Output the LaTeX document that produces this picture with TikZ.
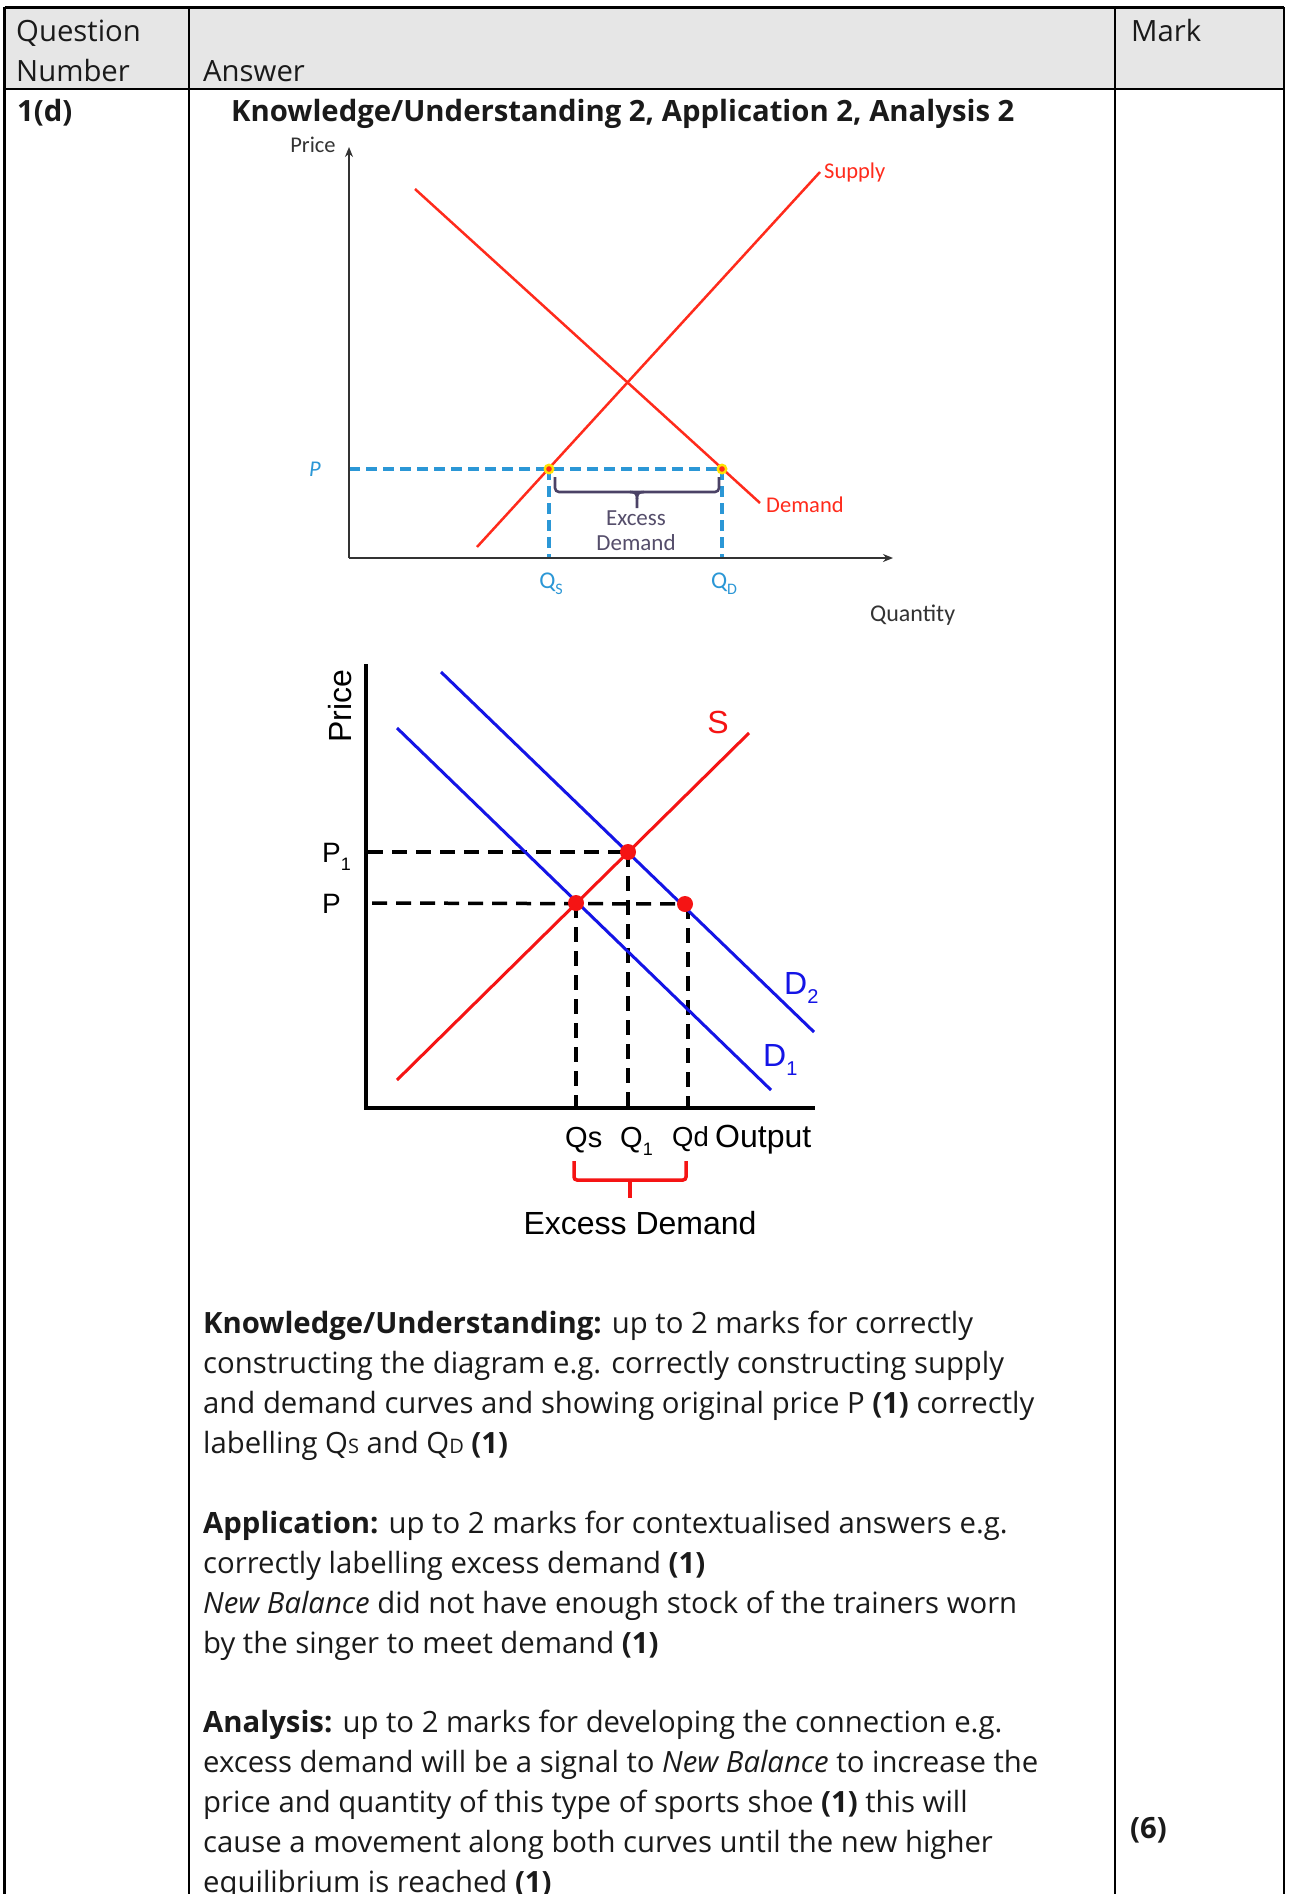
\documentclass[tikz,border=0pt]{standalone}
\usepackage{fontspec}
\setmainfont{Open Sans}
\newfontfamily\carl{Carlito}
\newfontfamily\arialf{Liberation Sans}
\usetikzlibrary{arrows.meta}
\definecolor{hdr}{HTML}{E6E6E6}
\definecolor{gred}{HTML}{FF2B1C}
\definecolor{gblue}{HTML}{2B97D6}
\definecolor{bracec}{HTML}{4B4266}
\definecolor{axisg}{HTML}{333333}
\definecolor{dblue}{HTML}{1414E6}
\definecolor{sred}{HTML}{F51414}
\definecolor{ink}{HTML}{1A1A1A}
\tikzset{
  tbl/.style={line width=2.2pt, black},
  body/.style={anchor=base west, inner sep=0pt, text=ink, font=\fontsize{29.3}{40}\selectfont},
  gone/.style={inner sep=0pt, font=\carl\fontsize{22.5}{25}\selectfont},
  gtwo/.style={inner sep=0pt, font=\arialf\fontsize{32}{36}\selectfont},
  bluedash/.style={gblue, line width=3.2pt, dash pattern=on 11pt off 6pt},
  blackdash/.style={black, line width=3.5pt, dash pattern=on 15pt off 9pt},
}
\begin{document}
\begin{tikzpicture}[x=1pt,y=-1pt]
\useasboundingbox (0,0) rectangle (1292,1894);
\fill[white] (0,0) rectangle (1292,1894);
% ---------- table ----------
\fill[hdr] (4.5,7.5) rectangle (1284,89);
\coordinate (tl) at (4.5,7.5);
\coordinate (tr) at (1284,7.5);
\coordinate (hl) at (4.5,89);
\coordinate (hr) at (1284,89);
\coordinate (bl) at (4.5,1894);
\coordinate (br) at (1284,1894);
\coordinate (c1t) at (189,7.5);
\coordinate (c1b) at (189,1894);
\coordinate (c2t) at (1115,7.5);
\coordinate (c2b) at (1115,1894);
\draw[tbl] (tl) -- (tr);
\draw[tbl] (hl) -- (hr);
\draw[tbl] (tl) -- (bl);
\draw[tbl] (tr) -- (br);
\draw[tbl] (c1t) -- (c1b);
\draw[tbl] (c2t) -- (c2b);
\node[body] (hq) at (16,42) {Question};
\node[body] (hn) at (16,82) {Number};
\node[body] (ha) at (203,82) {Answer};
\node[body] (hm) at (1131,42) {Mark};
\node[body] (qn) at (17,122) {\bfseries 1(d)};
\node[body] (ttl) at (231,122) {\bfseries Knowledge/Understanding 2, Application 2, Analysis 2};
% ---------- graph 1 ----------
\coordinate (O1) at (349,558);
\coordinate (Y1) at (349,147);
\coordinate (X1) at (893,558);
\coordinate (S1a) at (477,547);
\coordinate (S1b) at (820,172);
\coordinate (D1a) at (415,189);
\coordinate (D1b) at (760,503);
\coordinate (P1l) at (349,469);
\coordinate (E1s) at (549,469);
\coordinate (E1d) at (722,469);
\coordinate (E1sb) at (549,558);
\coordinate (E1db) at (722,558);
\draw[bluedash] (P1l) -- (E1d);
\draw[bluedash] (E1s) -- (E1sb);
\draw[bluedash] (E1d) -- (E1db);
\draw[axisg, line width=2.8pt, -{Stealth[length=10pt,width=8pt]}] (O1) -- (Y1);
\draw[axisg, line width=2.8pt, -{Stealth[length=10pt,width=8pt]}] (O1) -- (X1);
\draw[gred, line width=2.5pt] (S1a) -- (S1b);
\draw[gred, line width=2.5pt] (D1a) -- (D1b);
\fill[yellow!85!orange] (E1s) circle (5.5);
\fill[gred] (E1s) circle (2.8);
\fill[yellow!85!orange] (E1d) circle (5.5);
\fill[gred] (E1d) circle (2.8);
\draw[bracec, line width=2.6pt, rounded corners=4pt] (555,477) -- (555,492) -- (719,492) -- (719,477);
\draw[bracec, line width=2.6pt] (630,492) .. controls (636,492) and (637,494) .. (637,499) -- (637,508);
\draw[bracec, line width=2.6pt] (644,492) .. controls (638,492) and (637,494) .. (637,499);
\node[gone, text=axisg] (lprice1) at (313,145) {Price};
\node[gone, text=gred, anchor=west] (lsup) at (824,173) {Supply};
\node[gone, text=gred, anchor=west] (ldem) at (766,505) {Demand};
\node[gone, text=axisg, anchor=west, font=\carl\fontsize{24}{26}\selectfont] (lqty) at (870,615) {Quantity};
\node[gone, text=gblue] (lp1) at (315,469) {\itshape P};
\node[gone, text=gblue, font=\carl\fontsize{24}{26}\selectfont] (lqs1) at (551,584) {Q\raisebox{-0.25em}{\fontsize{16}{16}\selectfont S}};
\node[gone, text=gblue, font=\carl\fontsize{24}{26}\selectfont] (lqd1) at (724,584) {Q\raisebox{-0.25em}{\fontsize{16}{16}\selectfont D}};
\node[gone, text=bracec!80!gray, align=center, font=\carl\fontsize{23}{25}\selectfont] (lexc1) at (636,531) {Excess\\Demand};
% ---------- graph 2 ----------
\coordinate (O2) at (366,1108);
\coordinate (Y2) at (366,664);
\coordinate (X2) at (815,1108);
\coordinate (Dt1) at (441,672);
\coordinate (Dt2) at (814,1032);
\coordinate (Do1) at (397,728);
\coordinate (Do2) at (771,1090);
\coordinate (Ss1) at (397,1080);
\coordinate (Ss2) at (749,733);
\coordinate (E1) at (628,852);
\coordinate (E0) at (576,903);
\coordinate (E2) at (685,904);
\coordinate (P1a) at (368,852);
\coordinate (P0a) at (372,903);
\coordinate (E1b) at (628,1108);
\coordinate (E0b) at (576,1108);
\coordinate (E2v) at (688,904);
\coordinate (E2b) at (688,1108);
\draw[blackdash] (P1a) -- (E1);
\draw[blackdash] (P0a) -- (E2v);
\draw[blackdash] (E1) -- (E1b);
\draw[blackdash] (E0) -- (E0b);
\draw[blackdash] (E2v) -- (E2b);
\draw[dblue, line width=3pt] (Dt1) -- (Dt2);
\draw[dblue, line width=3pt] (Do1) -- (Do2);
\draw[sred, line width=3pt] (Ss1) -- (Ss2);
\draw[black, line width=4pt] (Y2) -- (O2) -- (X2);
\fill[sred] (E1) circle (8);
\fill[sred] (E0) circle (8);
\fill[sred] (E2) circle (8);
\node[gtwo, rotate=90] (lprice2) at (340,706) {Price};
\node[gtwo, anchor=base west, font=\arialf\fontsize{28}{32}\selectfont] (lP1) at (322,862) {P\raisebox{-0.3em}{\fontsize{18}{18}\selectfont 1}};
\node[gtwo, anchor=base west, font=\arialf\fontsize{28}{32}\selectfont] (lP0) at (322,913) {P};
\node[gtwo, text=sred] (lS) at (718,722) {S};
\node[gtwo, text=dblue, anchor=west] (lD2) at (784,988) {D\raisebox{-0.3em}{\fontsize{20}{20}\selectfont 2}};
\node[gtwo, text=dblue, anchor=west] (lD1) at (763,1060) {D\raisebox{-0.3em}{\fontsize{20}{20}\selectfont 1}};
\node[gtwo, anchor=base west, font=\arialf\fontsize{29}{34}\selectfont] (lqs2) at (565,1147) {Qs};
\node[gtwo, anchor=base west, font=\arialf\fontsize{29}{34}\selectfont] (lq12) at (620,1147) {Q\raisebox{-0.3em}{\fontsize{18}{18}\selectfont 1}};
\node[gtwo, anchor=base west, font=\arialf\fontsize{27.5}{34}\selectfont] (lqd2) at (672,1146) {Qd};
\node[gtwo, anchor=base west] (lout) at (715,1147) {Output};
\draw[sred, line width=3.5pt, rounded corners=3pt] (574,1161) -- (574,1180) -- (686,1180) -- (686,1161);
\draw[sred, line width=3.5pt] (630,1180) -- (630,1198);
\node[gtwo, anchor=base] (lexc2) at (640,1234) {Excess Demand};
% ---------- body text ----------
\node[body] (k1) at (203,1333) {\textbf{Knowledge/Understanding:} up to 2 marks for correctly};
\node[body] (k2) at (203,1373) {constructing the diagram e.g. correctly constructing supply};
\node[body] (k3) at (203,1413) {and demand curves and showing original price P \textbf{(1)} correctly};
\node[body] (k4) at (203,1453) {labelling Q{\fontsize{20}{20}\selectfont S} and Q{\fontsize{20}{20}\selectfont D} \textbf{(1)}};
\node[body] (a1) at (203,1533) {\textbf{Application:} up to 2 marks for contextualised answers e.g.};
\node[body] (a2) at (203,1573) {correctly labelling excess demand \textbf{(1)}};
\node[body] (a3) at (203,1613) {\textit{New Balance} did not have enough stock of the trainers worn};
\node[body] (a4) at (203,1653) {by the singer to meet demand \textbf{(1)}};
\node[body] (n1) at (203,1732) {\textbf{Analysis:} up to 2 marks for developing the connection e.g.};
\node[body] (n2) at (203,1772) {excess demand will be a signal to \textit{New Balance} to increase the};
\node[body] (n3) at (203,1812) {price and quantity of this type of sports shoe \textbf{(1)} this will};
\node[body] (n4) at (203,1852) {cause a movement along both curves until the new higher};
\node[body] (n5) at (203,1892) {equilibrium is reached \textbf{(1)}};
\node[body] (mk) at (1130,1838) {\bfseries (6)};
\end{tikzpicture}
\end{document}
